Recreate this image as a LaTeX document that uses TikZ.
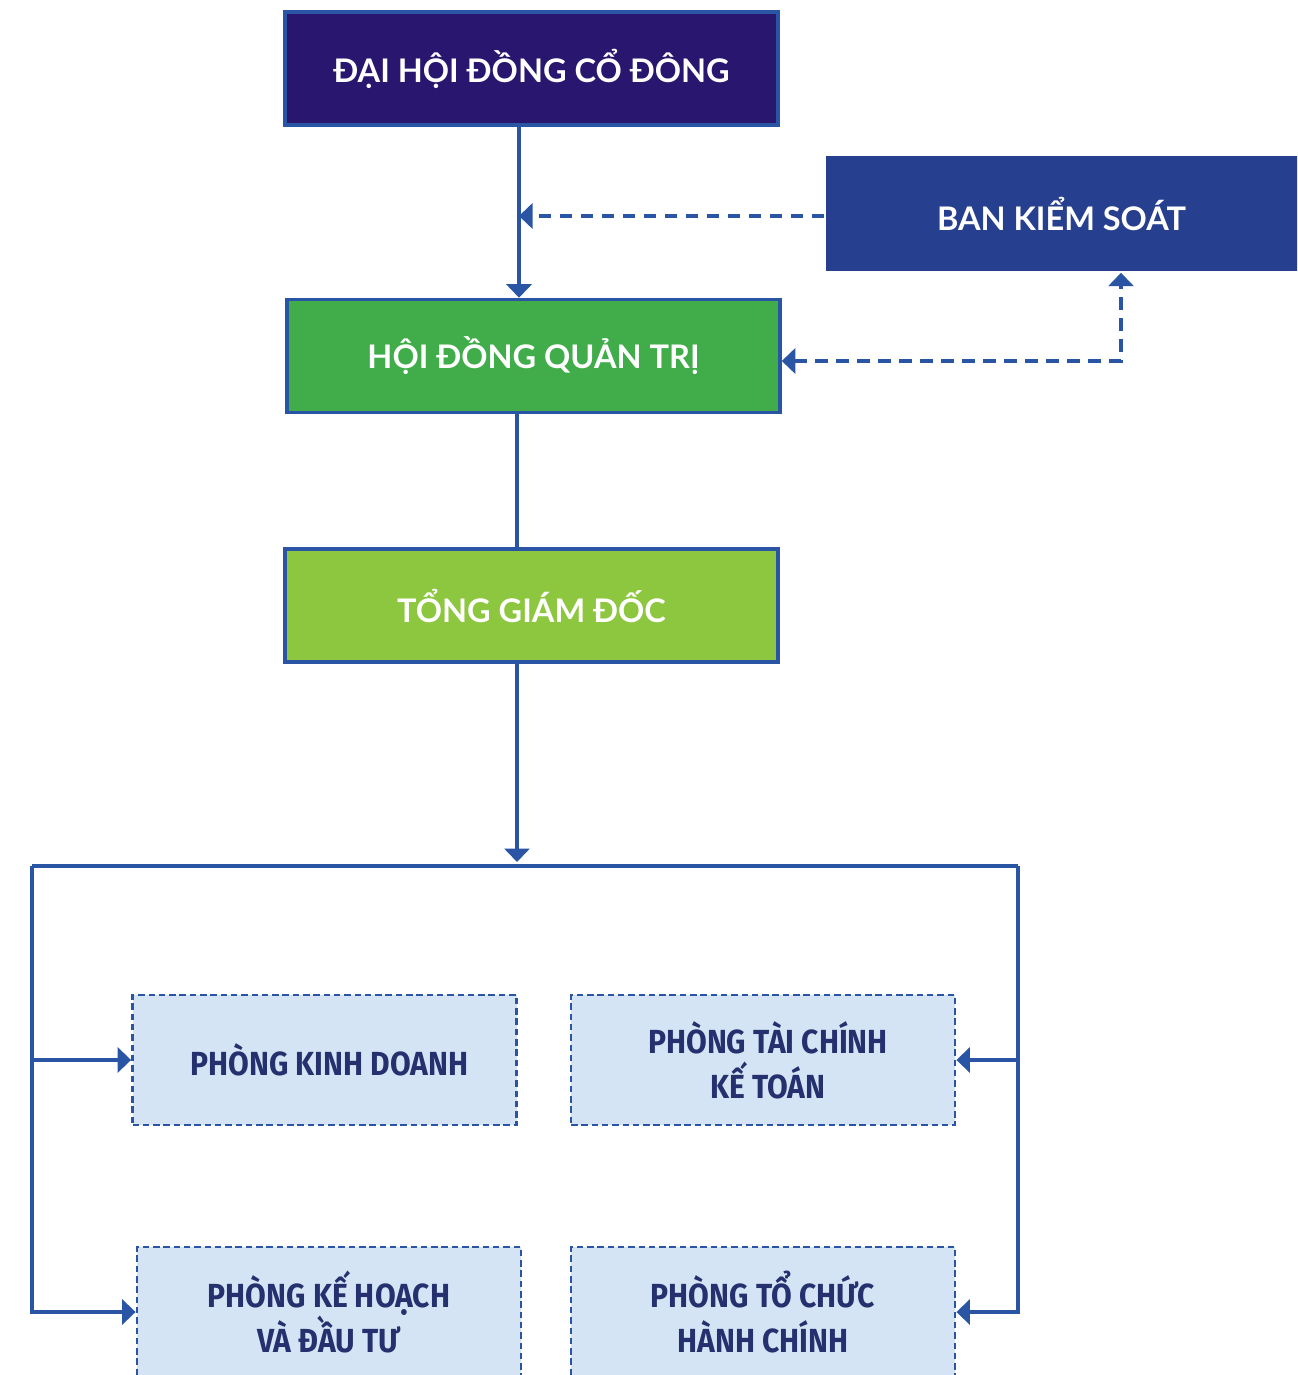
\documentclass[tikz,border=0pt]{standalone}
\usepackage{fontspec}
\setmainfont{Lato}
\newfontfamily\deptfont{Fira Sans}[FakeStretch=0.9]
\usetikzlibrary{arrows.meta,positioning}
\definecolor{OrgPurple}{HTML}{29166F}
\definecolor{OrgBlue}{HTML}{2A55A5}
\definecolor{OrgNavy}{HTML}{26408F}
\definecolor{OrgGreen}{HTML}{41AD4A}
\definecolor{OrgLime}{HTML}{8DC63F}
\definecolor{OrgSky}{HTML}{D5E4F5}
\definecolor{OrgInk}{HTML}{25306E}
\tikzset{
  orghead/.style={
    draw=OrgBlue,
    line width=1pt,
    minimum width=4.93cm,
    minimum height=1.13cm,
    align=center,
    text=white,
    font=\fontsize{9.25}{11}\selectfont\bfseries
  },
  orgdept/.style={
    draw=OrgBlue,
    fill=OrgSky,
    line width=0.8pt,
    dash pattern=on 0.65mm off 0.38mm,
    minimum width=3.84cm,
    minimum height=1.30cm,
    align=center,
    text=OrgInk,
    font=\deptfont\fontsize{9.5}{12.8}\selectfont\bfseries
  },
  orgline/.style={draw=OrgBlue,line width=1pt},
  orgarrow/.style={orgline,-{Triangle[length=1.35mm,width=2.5mm]}},
  orgdash/.style={orgline,line width=1.25pt,dash pattern=on 1.25mm off 0.85mm}
}
\begin{document}
\begin{tikzpicture}
    \clip (0,0) rectangle (12.97,-13.75);
    \fill[white] (0,0) rectangle (12.97,-13.75);
    \coordinate (spine) at (5.19,0);
    \coordinate (trunk) at (5.17,0);
    \coordinate (bkslink) at (11.21,0);
    \coordinate (busL) at (0.32,-8.66);
    \coordinate (busR) at (10.18,-8.66);
    % upper levels
    \node[orghead,fill=OrgPurple] (dhdcd) at (5.315,-0.685) {ĐẠI HỘI ĐỒNG CỔ ĐÔNG};
    \node[orghead,fill=OrgNavy,draw=none,minimum width=4.9cm,minimum height=1.15cm] (bks) at (10.71,-2.135) {\hspace*{-1.9mm}BAN KIỂM SOÁT};
    \node[orghead,fill=OrgGreen] (hdqt) at (5.335,-3.56) {HỘI ĐỒNG QUẢN TRỊ};
    \node[orghead,fill=OrgLime] (tgd) at (5.315,-6.055) {TỔNG GIÁM ĐỐC};
    % departments
    \node[orgdept] (pkd) at (3.245,-10.6) {\hspace*{1mm}PHÒNG KINH DOANH};
    \node[orgdept] (ptc) at (7.63,-10.6) {\hspace*{1mm}PHÒNG TÀI CHÍNH\\\hspace*{1mm}KẾ TOÁN};
    \node[orgdept] (pkh) at (3.29,-13.12) {PHÒNG KẾ HOẠCH\\VÀ ĐẦU TƯ};
    \node[orgdept] (ptchc) at (7.63,-13.12) {PHÒNG TỔ CHỨC\\HÀNH CHÍNH};
    % connectors
    \draw[orgarrow] (dhdcd.south -| spine) -- (hdqt.north -| spine);
    \draw[orgdash,-{Triangle[length=1.35mm,width=2.5mm]}] ([yshift=-0.25mm]bks.west) -- ([yshift=-0.25mm]bks.west -| spine);
    \draw[orgdash,{Triangle[length=1.35mm,width=2.5mm]}-{Triangle[length=1.35mm,width=2.5mm]}] ([yshift=-0.5mm]hdqt.east) -| (bks.south -| bkslink);
    \draw[orgline] (hdqt.south -| trunk) -- (tgd.north -| trunk);
    \draw[orgarrow] (tgd.south -| trunk) -- ([yshift=0.4mm]busL -| trunk);
    \draw[orgline] (busL) -- (busR);
    \draw[orgarrow] (busL) |- (pkh.west);
    \draw[orgarrow] (busL |- pkd.west) -- (pkd.west);
    \draw[orgarrow] (busR) |- (ptchc.east);
    \draw[orgarrow] (busR |- ptc.east) -- (ptc.east);
\end{tikzpicture}
\end{document}
